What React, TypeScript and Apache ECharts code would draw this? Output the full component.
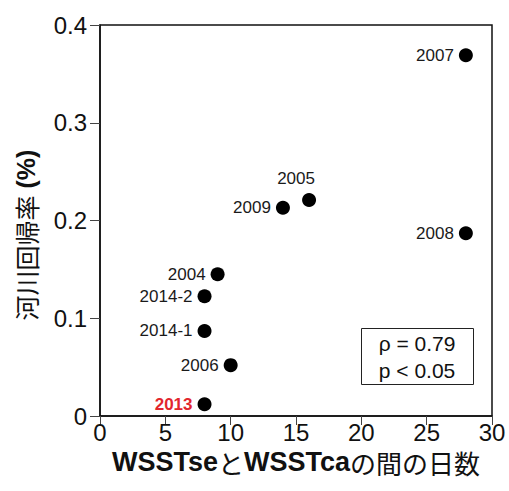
import React, { useEffect, useRef } from "react";
import * as echarts from "echarts";

const years = ["2007", "2008", "2005", "2009", "2004", "2014-2", "2014-1", "2006", "2013"];
const days = [28, 28, 16, 14, 9, 8, 8, 10, 8];
const rates = [0.369, 0.187, 0.221, 0.213, 0.145, 0.1225, 0.087, 0.052, 0.012];
const xTicks = [0, 5, 10, 15, 20, 25, 30];
const yTicks = [0, 0.1, 0.2, 0.3, 0.4];
const statLines = ["ρ = 0.79", "p < 0.05"];
const highlightYear = "2013";
const yTitleJa = "河川回帰率";
const yTitleUnit = "(%)";

const LATIN = "'Liberation Sans', Arial, 'Noto Sans CJK JP', sans-serif";
const CJK = "'Noto Sans CJK JP', 'Liberation Sans', sans-serif";

export default function App() {
  const ref = useRef<HTMLDivElement>(null);
  useEffect(() => {
    if (!ref.current) return;
    const chart = echarts.init(ref.current, undefined, { renderer: "svg" });
    const data = years.map((y, i) => {
      const isHi = y === highlightYear;
      const top = y === "2005";
      return {
        value: [days[i], rates[i]],
        name: y,
        label: {
          show: true,
          formatter: y,
          position: top ? "top" : "left",
          distance: top ? 6 : 5,
          offset: top ? [-13, 0] : [0, 0],
          color: isHi ? "#e2262d" : "#1a1a1a",
          fontWeight: isHi ? "bold" : "normal",
          fontSize: 17,
          fontFamily: LATIN,
          opacity: 1,
        },
      };
    });
    chart.setOption({
      animation: false,
      grid: {
        left: 100,
        top: 25,
        right: 17,
        bottom: 75,
        show: true,
        borderColor: "#111",
        borderWidth: 1.5,
        backgroundColor: "transparent",
      },
      xAxis: {
        type: "value",
        min: xTicks[0],
        max: xTicks[xTicks.length - 1],
        interval: 5,
        splitLine: { show: false },
        axisLine: { show: true, lineStyle: { color: "#111", width: 1.5 } },
        axisTick: { show: true, length: 9, lineStyle: { color: "#444", width: 1 } },
        axisLabel: { color: "#111", fontSize: 24, fontFamily: LATIN, margin: 4 },
        name: "{b|WSSTse}{c|と}{b|WSSTca}{c|の間の日数}",
        nameLocation: "middle",
        nameGap: 24,
        nameTextStyle: {
          rich: {
            b: { fontSize: 27, fontWeight: "bold", fontFamily: LATIN, color: "#111" },
            c: { fontSize: 26, fontWeight: "normal", fontFamily: CJK, color: "#111" },
          },
        },
      },
      yAxis: {
        type: "value",
        min: yTicks[0],
        max: yTicks[yTicks.length - 1],
        interval: 0.1,
        splitLine: { show: false },
        axisLine: { show: true, lineStyle: { color: "#111", width: 1.5 } },
        axisTick: { show: true, length: 10, lineStyle: { color: "#444", width: 1 } },
        axisLabel: { color: "#111", fontSize: 24, fontFamily: LATIN, margin: 13 },
      },
      series: [
        {
          type: "scatter",
          symbol: "circle",
          symbolSize: 14,
          itemStyle: { color: "#000", opacity: 1 },
          data,
        },
      ],
      graphic: [
        {
          type: "text",
          x: 26,
          y: 235,
          rotation: Math.PI / 2,
          style: {
            text: `{c|${yTitleJa}}{s| }{b|${yTitleUnit}}`,
            align: "center",
            verticalAlign: "middle",
            fill: "#111",
            rich: {
              b: { fontSize: 25, fontWeight: "bold", fontFamily: LATIN, fill: "#111" },
              c: { fontSize: 25, fontWeight: "normal", fontFamily: CJK, fill: "#111" },
              s: { fontSize: 25, fontFamily: LATIN, fill: "#111" },
            },
          },
        },
        {
          type: "rect",
          left: 361,
          top: 328,
          shape: { width: 112, height: 56 },
          style: { fill: "#fff", stroke: "#222", lineWidth: 1 },
        },
        {
          type: "text",
          x: 417,
          y: 343,
          style: {
            text: statLines[0],
            fontSize: 21,
            fontFamily: LATIN,
            fill: "#111",
            align: "center",
            verticalAlign: "middle",
          },
        },
        {
          type: "text",
          x: 417,
          y: 370,
          style: {
            text: statLines[1],
            fontSize: 21,
            fontFamily: LATIN,
            fill: "#111",
            align: "center",
            verticalAlign: "middle",
          },
        },
      ],
    });
    return () => chart.dispose();
  }, []);
  return (
    <div
      ref={ref}
      style={{ position: "fixed", left: 0, top: 0, width: 509, height: 491, background: "#fff" }}
    />
  );
}
